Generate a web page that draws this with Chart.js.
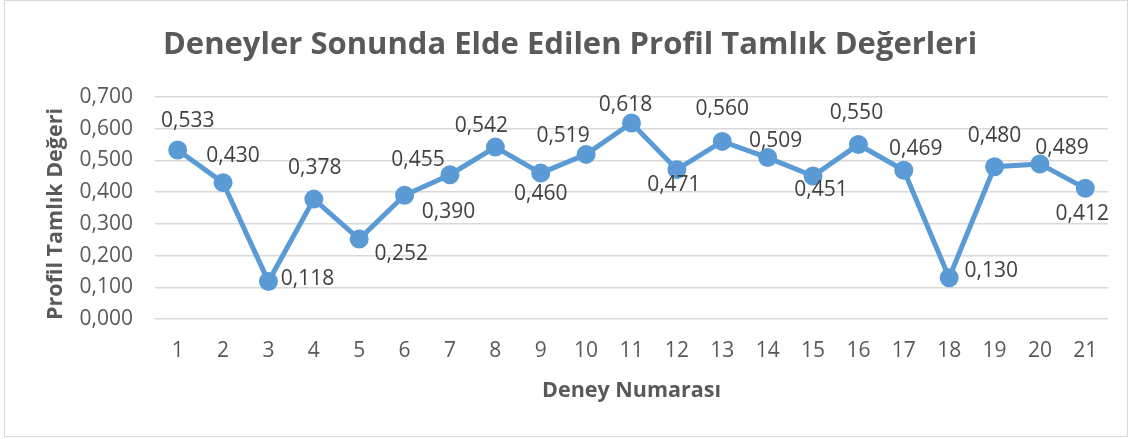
<!DOCTYPE html>
<html lang="tr">
<head>
    <meta charset="UTF-8">
    <title>Deneyler Sonunda Elde Edilen Profil Tamlık Değerleri</title>
    <script src="https://cdn.jsdelivr.net/npm/chart.js"></script>
    <style>
        html, body { margin: 0; padding: 0; background: #fff; }
        #wrap { width: 1132px; height: 439px; position: relative; }
    </style>
</head>
<body>
    <div id="wrap"><canvas id="tamlikChart"></canvas></div>
    <script>
        // deney numaraları ve ölçülen değerler
        const deneyler = ['1', '2', '3', '4', '5', '6', '7', '8', '9', '10', '11',
                          '12', '13', '14', '15', '16', '17', '18', '19', '20', '21'];
        const tamlikDegerleri = [0.533, 0.430, 0.118, 0.378, 0.252, 0.390, 0.455, 0.542, 0.460, 0.519, 0.618,
                                 0.471, 0.560, 0.509, 0.451, 0.550, 0.469, 0.130, 0.480, 0.489, 0.412];

        // etiketlerin noktaya göre kayması (px) - Excel'de elle yerleştirilmiş gibi
        const etiketKayma = [
            [10, -29], [10, -27], [39, -3], [1, -31], [42, 15], [44, 17], [-32, -15],
            [-14, -21], [0, 21], [-23, -18], [-6, -18], [-3, 15], [0, -32], [8, -17],
            [8, 14], [-2, -32], [12, -21], [42, -7], [0, -31], [22, -16], [-3, 26]
        ];

        const baslik = 'Deneyler Sonunda Elde Edilen Profil Tamlık Değerleri';
        const yEksenBaslik = 'Profil Tamlık Değeri';
        const xEksenBaslik = 'Deney Numarası';

        const yaziTipi = '"Open Sans", "Noto Sans", sans-serif';
        const virgullu = v => Number(v).toFixed(3).replace('.', ',');

        // çerçeve + beyaz zemin
        const cerceve = {
            id: 'cerceve',
            beforeDraw(chart) {
                const ctx = chart.ctx;
                ctx.save();
                ctx.fillStyle = '#fff';
                ctx.fillRect(0, 0, chart.width, chart.height);
                ctx.strokeStyle = '#d9d9d9';
                ctx.lineWidth = 1;
                ctx.strokeRect(4.5, 0.5, 1123, 436);
                ctx.restore();
            }
        };

        // grafik başlığı ve dikey eksen başlığı elle çiziliyor (Excel'deki yerleri)
        const basliklar = {
            id: 'basliklar',
            afterDraw(chart) {
                const ctx = chart.ctx;
                ctx.save();
                ctx.fillStyle = '#595959';
                ctx.textAlign = 'center';
                ctx.textBaseline = 'middle';
                ctx.font = 'bold 31px ' + yaziTipi;
                ctx.fillText(baslik, 570, 45);

                ctx.translate(56, 214);
                ctx.rotate(-Math.PI / 2);
                ctx.font = 'bold 21.5px ' + yaziTipi;
                ctx.fillText(yEksenBaslik, 0, 0);
                ctx.restore();
            }
        };

        // veri etiketleri
        const veriEtiketleri = {
            id: 'veriEtiketleri',
            afterDatasetsDraw(chart) {
                const ctx = chart.ctx;
                const meta = chart.getDatasetMeta(0);
                ctx.save();
                ctx.font = '21px ' + yaziTipi;
                ctx.fillStyle = '#404040';
                ctx.textAlign = 'center';
                ctx.textBaseline = 'middle';
                meta.data.forEach((pt, i) => {
                    const [dx, dy] = etiketKayma[i];
                    ctx.fillText(virgullu(tamlikDegerleri[i]), pt.x + dx, pt.y + dy);
                });
                ctx.restore();
            }
        };

        const ctx = document.getElementById('tamlikChart').getContext('2d');
        new Chart(ctx, {
            type: 'line',
            data: {
                labels: deneyler,
                datasets: [{
                    data: tamlikDegerleri,
                    borderColor: '#5b9bd5',
                    backgroundColor: '#5b9bd5',
                    borderWidth: 5,
                    pointRadius: 7,
                    pointHoverRadius: 7,
                    pointBackgroundColor: '#5b9bd5',
                    pointBorderColor: '#5b9bd5',
                    tension: 0,
                    fill: false
                }]
            },
            options: {
                responsive: true,
                maintainAspectRatio: false,
                animation: false,
                layout: { padding: { left: 0, right: 24, top: 97, bottom: 30 } },
                plugins: {
                    legend: { display: false },
                    tooltip: { enabled: false },
                    title: { display: false }
                },
                scales: {
                    x: {
                        offset: true,
                        grid: { display: false, drawTicks: false },
                        border: { display: false },
                        ticks: {
                            color: '#595959',
                            font: { family: yaziTipi, size: 21 },
                            padding: 19,
                            maxRotation: 0
                        },
                        title: {
                            display: true,
                            text: xEksenBaslik,
                            color: '#595959',
                            font: { family: yaziTipi, size: 21.5, weight: 'bold', lineHeight: 1.2 },
                            padding: { top: 0, bottom: 5 }
                        },
                        afterFit(scale) { scale.height = 90; }
                    },
                    y: {
                        min: 0,
                        max: 0.7,
                        grid: { color: '#d9d9d9', lineWidth: 1.5, drawTicks: false },
                        border: { display: false },
                        ticks: {
                            stepSize: 0.1,
                            color: '#595959',
                            font: { family: yaziTipi, size: 21 },
                            padding: 22,
                            callback: v => virgullu(v)
                        },
                        title: { display: false },
                        afterFit(scale) { scale.width = 155; }
                    }
                }
            },
            plugins: [cerceve, basliklar, veriEtiketleri]
        });
    </script>
</body>
</html>
